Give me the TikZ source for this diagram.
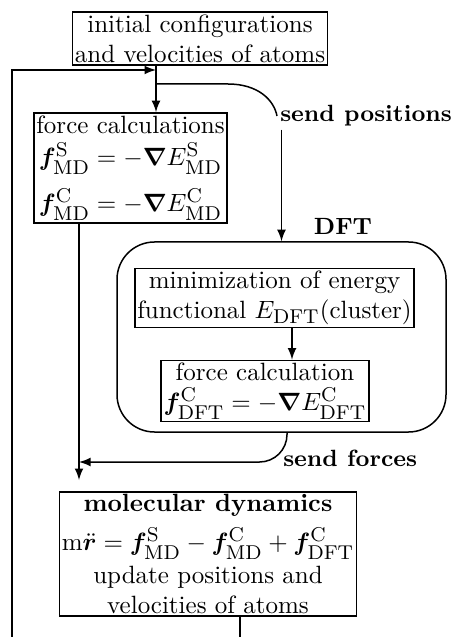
\documentclass[tikz,border=0pt]{standalone}
\usepackage{amsmath}
\usepackage{bm}
\usepackage{tikz}
\DeclareMathSizes{10}{10}{8}{6}

\begin{document}
\begin{tikzpicture}[x=0.4pt, y=-0.4pt, line width=0.6pt,
  box/.style={draw, align=center, inner sep=1pt},
  grp/.style={draw, rounded corners=15pt, minimum width=131.6pt, minimum height=76pt},
  flow/.style={->, >=latex},
  lbl/.style={font=\fontsize{9.4}{11}\selectfont\bfseries, inner sep=1pt}]
\useasboundingbox (0,0) rectangle (451,637);
% boxes
\node[box] (init) at (200,38.5) {initial configurations\\ and velocities of atoms};
\node[box] (force) at (130.5,168) {force calculations\\[1pt]
  $\bm f^{\mathrm S}_{\mathrm{MD}} = -\bm\nabla E^{\mathrm S}_{\mathrm{MD}}$\\[5pt]
  $\bm f^{\mathrm C}_{\mathrm{MD}} = -\bm\nabla E^{\mathrm C}_{\mathrm{MD}}$};
\node[grp] (dft) at (281.5,337) {};
\node[lbl, anchor=south] (dftlbl) at (343,238) {DFT};
\node[box] (minim) at (274.5,298) {minimization of energy\\ functional $E_{\mathrm{DFT}}$(cluster)};
\node[box] (fdft) at (265,391) {force calculation\\
  $\bm f^{\mathrm C}_{\mathrm{DFT}} = -\bm\nabla E^{\mathrm C}_{\mathrm{DFT}}$};
\node[box] (md) at (208,554) {\textbf{molecular dynamics}\\[3.5pt]
  $\mathrm{m}\ddot{\bm r} = \bm f^{\mathrm S}_{\mathrm{MD}} - \bm f^{\mathrm C}_{\mathrm{MD}} + \bm f^{\mathrm C}_{\mathrm{DFT}}$\\[1pt]
  update positions and\\ velocities of atoms};
\node[lbl, anchor=west] (sendpos) at (277,116) {send positions};
\node[lbl, anchor=west] (sendfrc) at (280,458) {send forces};
% junctions
\coordinate (spine) at (156,70);
\coordinate (fork) at (156,84);
\coordinate (loopL) at (12,637);
\coordinate (loopR) at (240,637);
\coordinate (inMD) at (79,480);
\coordinate (join) at (79,462);
% connectors
\draw[flow] (loopL) |- (spine);
\draw[flow] (init.south -| spine) -- (force.north -| spine);
\draw (fork) -- (228,84) .. controls (258,84) and (274,100) .. (sendpos.west);
\draw[flow] ([xshift=1.8pt]sendpos.south west) -- ([xshift=1.8pt]sendpos.south west |- dft.north);
\draw[flow] ([xshift=7pt]minim.south) -- ([xshift=7pt]minim.south |- fdft.north);
\draw[flow] (force.south -| inMD) -- (inMD);
\draw[flow, rounded corners=11pt] ([xshift=2.2pt]dft.south) |- (join);
\draw (md.south -| loopR) -- (loopR);
\end{tikzpicture}
\end{document}
